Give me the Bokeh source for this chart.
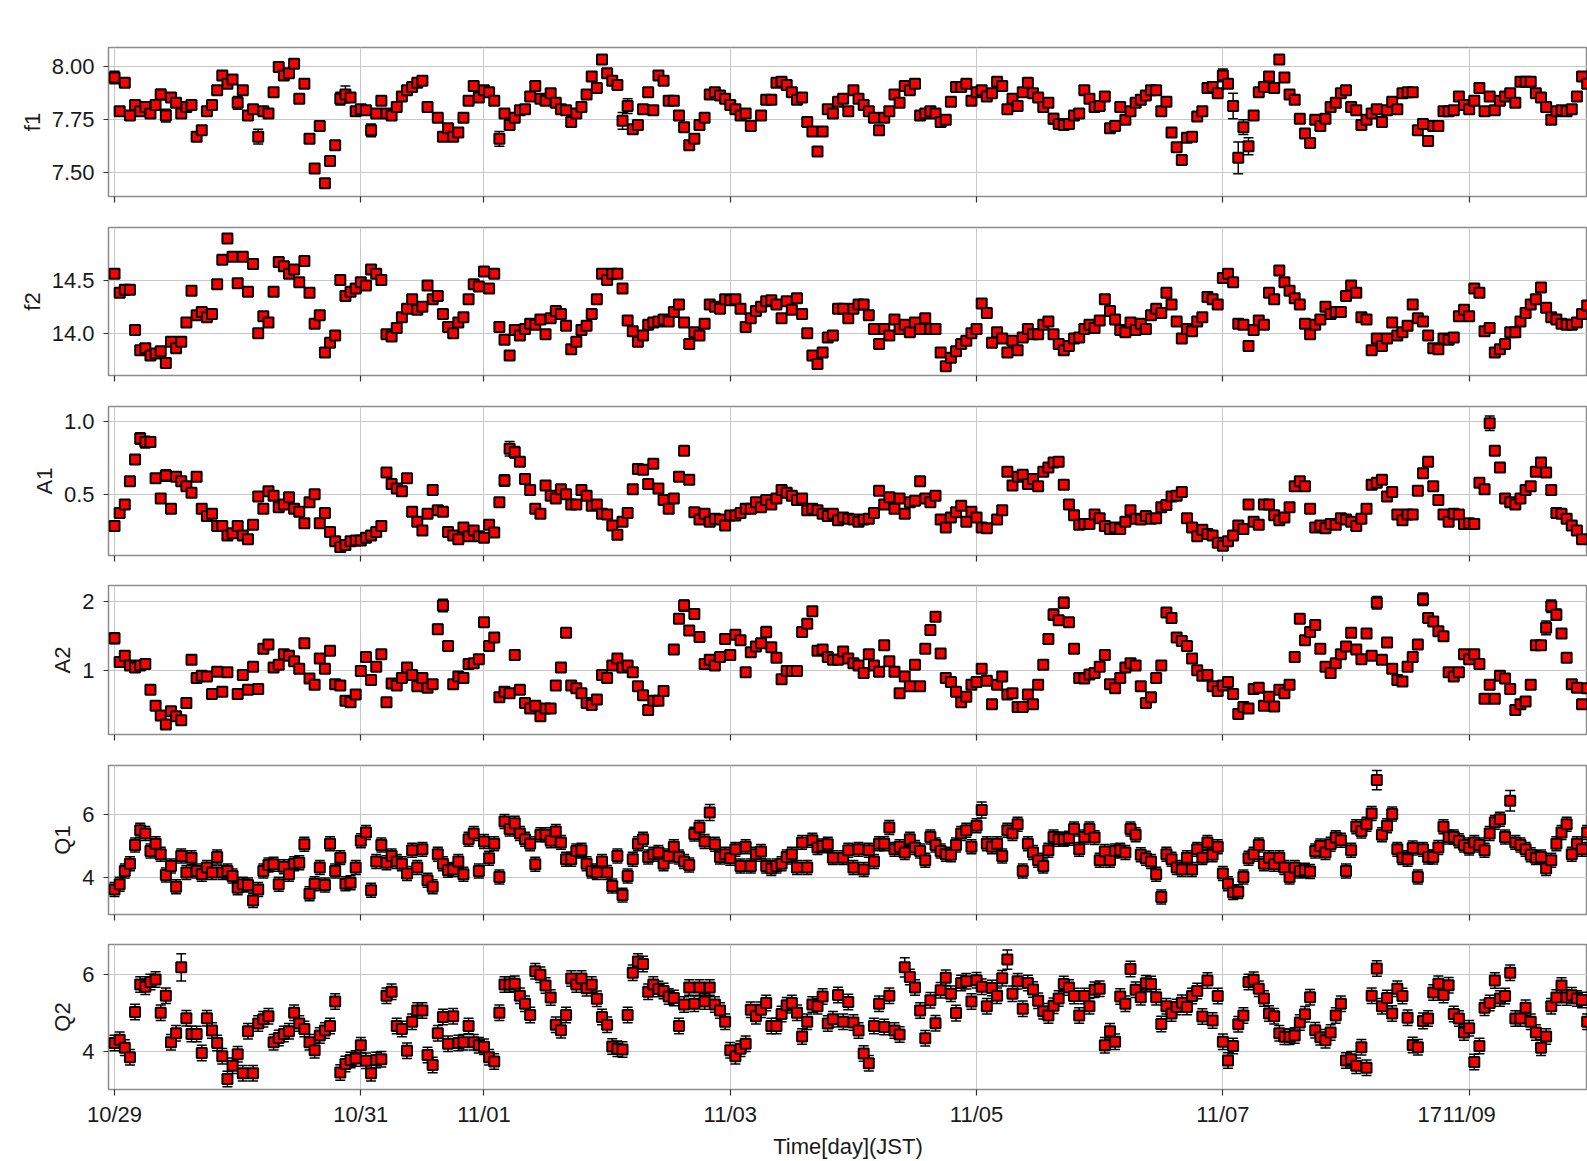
import sys
from bokeh.plotting import figure
from bokeh.layouts import column
from bokeh.models import (ColumnDataSource, Whisker, TeeHead, FixedTicker,
                          Range1d, NumeralTickFormatter)
from bokeh.embed import file_html
from bokeh.resources import INLINE

# ---------------- data ----------------
# hours since 10/29 00:00 JST (one fit per hour)
hours = [
    0, 1, 2, 3, 4, 5, 6, 7, 8, 9, 10, 11, 12, 13, 14, 15, 16, 17, 18, 19,
    20, 21, 22, 23, 24, 25, 26, 27, 28, 29, 30, 31, 32, 33, 34, 35, 36, 37, 38, 39,
    40, 41, 42, 43, 44, 45, 46, 47, 48, 49, 50, 51, 52, 53, 54, 55, 56, 57, 58, 59,
    60, 61, 62, 63, 64, 65, 66, 67, 68, 69, 70, 71, 72, 73, 74, 75, 76, 77, 78, 79,
    80, 81, 82, 83, 84, 85, 86, 87, 88, 89, 90, 91, 92, 93, 94, 95, 96, 97, 98, 99,
    100, 101, 102, 103, 104, 105, 106, 107, 108, 109, 110, 111, 112, 113, 114, 115, 116, 117, 118, 119,
    120, 121, 122, 123, 124, 125, 126, 127, 128, 129, 130, 131, 132, 133, 134, 135, 136, 137, 138, 139,
    140, 141, 142, 143, 144, 145, 146, 147, 148, 149, 150, 151, 152, 153, 154, 155, 156, 157, 158, 159,
    160, 161, 162, 163, 164, 165, 166, 167, 168, 169, 170, 171, 172, 173, 174, 175, 176, 177, 178, 179,
    180, 181, 182, 183, 184, 185, 186, 187, 188, 189, 190, 191, 192, 193, 194, 195, 196, 197, 198, 199,
    200, 201, 202, 203, 204, 205, 206, 207, 208, 209, 210, 211, 212, 213, 214, 215, 216, 217, 218, 219,
    220, 221, 222, 223, 224, 225, 226, 227, 228, 229, 230, 231, 232, 233, 234, 235, 236, 237, 238, 239,
    240, 241, 242, 243, 244, 245, 246, 247, 248, 249, 250, 251, 252, 253, 254, 255, 256, 257, 258, 259,
    260, 261, 262, 263, 264, 265, 266, 267, 268, 269, 270, 271, 272, 273, 274, 275, 276, 277, 278, 279,
    280, 281, 282, 283, 284, 285, 286, 287,
]

day_ticks = [0, 2, 3, 5, 7, 9, 11]
day_labels = ["10/29", "10/31", "11/01", "11/03", "11/05", "11/07", "11/09"]
page_number = "17"
page_number_pos = 10.68   # where the slide page number sits along the time axis

f1 = [
    7.95, 7.79, 7.925, 7.77, 7.82, 7.79, 7.81, 7.78, 7.82, 7.87,
    7.77, 7.855, 7.83, 7.78, 7.81, 7.82, 7.67, 7.70, 7.79, 7.82,
    7.89, 7.96, 7.92, 7.94, 7.83, 7.89, 7.77, 7.80, 7.67, 7.79,
    7.78, 7.88, 8.00, 7.96, 7.97, 8.015, 7.85, 7.92, 7.66, 7.52,
    7.72, 7.45, 7.555, 7.63, 7.85, 7.87, 7.855, 7.79, 7.80, 7.795,
    7.70, 7.78, 7.84, 7.78, 7.77, 7.81, 7.86, 7.89, 7.905, 7.925,
    7.935, 7.81, None, 7.76, 7.67, 7.71, 7.67, 7.69, 7.76, 7.84,
    7.91, 7.855, 7.89, 7.88, 7.84, 7.66, 7.78, 7.725, 7.76, 7.795,
    7.80, 7.86, 7.91, 7.85, 7.84, 7.875, 7.83, 7.80, 7.795, 7.74,
    7.78, 7.81, 7.87, 7.955, 7.90, 8.035, 7.97, 7.935, 7.915, 7.745,
    7.815, 7.705, 7.725, 7.80, 7.88, 7.795, 7.96, 7.935, 7.84, 7.84,
    7.77, 7.715, 7.63, 7.66, 7.725, 7.76, 7.87, 7.88, 7.865, 7.85,
    7.82, 7.80, 7.77, 7.78, 7.72, None, 7.77, 7.845, 7.845, 7.925,
    7.93, 7.915, 7.88, 7.845, 7.855, 7.74, 7.695, 7.60, 7.695, 7.80,
    7.78, 7.835, 7.85, 7.79, 7.89, 7.85, 7.82, 7.79, 7.76, 7.70,
    7.76, 7.79, 7.87, 7.83, 7.91, 7.89, 7.92, 7.77, 7.78, 7.79,
    7.78, 7.74, 7.75, 7.835, 7.905, 7.905, 7.92, 7.84, 7.88, 7.89,
    7.86, 7.875, 7.93, 7.91, 7.80, 7.85, 7.815, 7.88, 7.925, 7.875,
    7.855, 7.81, 7.83, 7.755, 7.73, 7.725, 7.73, 7.77, 7.78, 7.89,
    7.85, 7.81, 7.815, 7.86, 7.71, 7.72, 7.81, 7.75, 7.79, 7.83,
    7.845, 7.865, 7.89, 7.89, 7.79, 7.835, 7.69, 7.62, 7.56, 7.665,
    7.67, 7.765, 7.79, 7.90, 7.905, 7.875, 7.96, 7.92, 7.815, 7.57,
    7.715, 7.625, 7.77, 7.88, 7.905, 7.955, 7.90, 8.035, 7.95, 7.87,
    7.845, 7.755, 7.685, 7.64, 7.75, 7.72, 7.755, 7.81, 7.83, 7.875,
    7.89, 7.81, 7.795, 7.725, 7.75, 7.78, 7.80, 7.74, 7.795, 7.835,
    7.80, 7.875, 7.88, 7.88, 7.70, 7.73, 7.65, 7.72, 7.72, 7.79,
    7.79, 7.795, 7.86, 7.82, 7.80, 7.84, 7.90, 7.79, 7.86, 7.795,
    7.84, 7.86, 7.875, 7.83, 7.93, 7.93, 7.93, 7.875, 7.855, 7.81,
    7.75, 7.79, 7.795, 7.79, 7.80, 7.86, 7.955, 7.92,
]
f1_err = 0.015
f1_err_big = {0: 0.03, 9: 0.025, 10: 0.03, 24: 0.03, 28: 0.035, 44: 0.03, 45: 0.04,
              50: 0.03, 75: 0.035, 99: 0.04, 100: 0.035, 183: 0.025, 216: 0.03,
              218: 0.06, 219: 0.075, 220: 0.035, 221: 0.04}

f2 = [
    14.56, 14.38, 14.41, 14.41, 14.03, 13.84, 13.86, 13.79, 13.81, 13.83,
    13.72, 13.92, 13.86, 13.92, 14.10, 14.40, 14.17, 14.20, 14.15, 14.18,
    14.46, 14.69, 14.89, 14.72, 14.47, 14.72, 14.39, 14.65, 14.00, 14.16,
    14.10, 14.39, 14.67, 14.63, 14.56, 14.60, 14.48, 14.68, 14.38, 14.09,
    14.17, 13.82, 13.91, 13.98, 14.50, 14.35, 14.39, 14.42, 14.48, 14.45,
    14.60, 14.56, 14.50, 13.99, 13.97, 14.05, 14.15, 14.23, 14.32, 14.22,
    14.25, 14.45, 14.32, 14.35, 14.18, 14.06, 14.00, 14.10, 14.15, 14.32,
    14.46, 14.44, 14.58, 14.42, 14.56, 14.06, 13.94, 13.79, 14.03, 13.98,
    14.04, 14.09, 14.08, 14.13, 13.99, 14.14, 14.21, 14.18, 14.07, 13.85,
    13.92, 14.03, 14.07, 14.18, 14.32, 14.56, 14.50, 14.56, 14.56, 14.42,
    14.12, 14.02, 13.92, 13.98, 14.08, 14.10, 14.11, 14.13, 14.11, 14.20,
    14.27, 14.10, 13.90, 14.01, 13.98, 14.09, 14.27, 14.25, 14.23, 14.32,
    14.31, 14.32, 14.23, 14.06, 14.14, 14.21, 14.25, 14.30, 14.31, 14.27,
    14.14, 14.30, 14.22, 14.33, 14.18, 14.00, 13.79, 13.71, 13.82, 13.96,
    13.98, 14.23, 14.23, 14.14, 14.23, 14.27, 14.27, 14.17, 14.04, 13.90,
    14.04, 13.98, 14.13, 14.04, 14.08, 14.01, 14.10, 14.04, 14.14, 14.04,
    14.04, 13.82, 13.69, 13.77, 13.83, 13.90, 13.93, 14.00, 14.04, 14.28,
    14.19, 13.91, 14.01, 13.95, 13.82, 13.93, 13.84, 13.96, 14.04, 13.99,
    13.99, 14.08, 14.11, 13.99, 13.90, 13.84, 13.88, 13.95, 13.96, 14.04,
    14.08, 14.05, 14.12, 14.32, 14.21, 14.13, 14.03, 14.01, 14.10, 14.03,
    14.09, 14.04, 14.17, 14.23, 14.19, 14.38, 14.27, 14.11, 13.95, 14.04,
    14.02, 14.11, 14.15, 14.34, 14.32, 14.27, 14.52, 14.56, 14.48, 14.09,
    14.08, 13.88, 14.03, 14.12, 14.08, 14.38, 14.32, 14.59, 14.48, 14.40,
    14.33, 14.27, 14.09, 13.99, 14.08, 14.13, 14.25, 14.18, 14.20, 14.20,
    14.35, 14.45, 14.38, 14.15, 14.13, 13.84, 13.95, 13.88, 13.95, 14.10,
    13.98, 14.01, 14.07, 14.27, 14.14, 14.11, 13.98, 13.86, 13.85, 13.95,
    13.94, 13.96, 14.16, 14.22, 14.16, 14.42, 14.38, 14.02, 14.05, 13.82,
    13.85, 13.90, 14.01, 14.01, 14.11, 14.19, 14.27, 14.32, 14.43, 14.24,
    14.15, 14.13, 14.09, 14.08, 14.08, 14.10, 14.18, 14.26,
]
f2_err = 0.012
f2_err_big = {44: 0.03, 45: 0.04, 46: 0.03, 50: 0.04}

A1 = [
    0.28, 0.37, 0.43, 0.59, 0.74, 0.885, 0.86, 0.86, 0.61, 0.47,
    0.63, 0.40, 0.62, 0.59, 0.555, 0.51, 0.62, 0.40, 0.35, 0.365,
    0.28, 0.28, 0.215, 0.23, 0.28, 0.215, 0.19, 0.29, 0.485, 0.40,
    0.52, 0.49, 0.41, 0.43, 0.48, 0.40, 0.38, 0.30, 0.445, 0.50,
    0.30, 0.37, 0.24, 0.175, 0.135, 0.15, 0.175, 0.18, 0.18, 0.20,
    0.215, 0.24, 0.28, 0.65, 0.57, 0.54, 0.52, 0.61, 0.38, 0.31,
    0.25, 0.365, 0.53, 0.39, 0.38, 0.24, 0.215, 0.19, 0.27, 0.21,
    0.25, 0.21, 0.20, 0.29, 0.235, 0.445, 0.595, 0.815, 0.79, 0.725,
    0.605, 0.53, 0.40, 0.365, 0.56, 0.49, 0.47, 0.535, 0.50, 0.43,
    0.43, 0.53, 0.49, 0.42, 0.43, 0.365, 0.36, 0.285, 0.22, 0.31,
    0.37, 0.535, 0.675, 0.67, 0.57, 0.71, 0.54, 0.46, 0.40, 0.47,
    0.62, 0.80, 0.60, 0.376, 0.325, 0.365, 0.31, 0.33, 0.325, 0.285,
    0.353, 0.353, 0.37, 0.40, 0.40, 0.445, 0.41, 0.46, 0.43, 0.47,
    0.53, 0.51, 0.49, 0.46, 0.47, 0.39, 0.40, 0.39, 0.365, 0.35,
    0.365, 0.32, 0.34, 0.33, 0.325, 0.31, 0.325, 0.33, 0.37, 0.525,
    0.43, 0.48, 0.40, 0.47, 0.365, 0.445, 0.455, 0.59, 0.47, 0.445,
    0.49, 0.325, 0.27, 0.34, 0.375, 0.42, 0.31, 0.38, 0.34, 0.27,
    0.265, None, 0.325, 0.39, 0.655, 0.56, 0.62, 0.635, 0.57, 0.605,
    0.555, 0.655, 0.685, 0.72, 0.725, 0.565, 0.43, 0.355, 0.29, 0.295,
    0.295, 0.36, 0.335, 0.28, 0.26, 0.27, 0.26, 0.31, 0.39, 0.33,
    0.325, 0.35, 0.33, 0.335, 0.41, 0.425, 0.485, 0.49, 0.515, 0.335,
    0.27, 0.21, 0.255, 0.225, 0.215, 0.165, 0.145, 0.175, 0.215, 0.285,
    0.26, 0.43, 0.31, 0.29, 0.43, 0.43, 0.355, 0.32, 0.34, 0.41,
    0.555, 0.59, 0.555, 0.40, 0.27, 0.285, 0.265, 0.295, 0.29, 0.335,
    0.325, 0.31, 0.28, 0.33, 0.40, 0.565, 0.58, 0.60, 0.485, 0.515,
    0.36, 0.32, 0.36, 0.36, 0.525, 0.645, 0.725, 0.555, 0.46, 0.36,
    0.31, 0.365, 0.36, 0.295, 0.30, 0.295, 0.58, 0.535, 0.99, 0.80,
    0.685, 0.47, 0.445, 0.43, 0.47, 0.53, 0.555, 0.655, 0.72, 0.65,
    0.53, 0.37, 0.365, 0.33, 0.285, 0.25, 0.19, None,
]
A1_err = 0.015
A1_err_big = {5: 0.04, 6: 0.04, 7: 0.03, 10: 0.04, 76: 0.04, 77: 0.05, 78: 0.04,
              183: 0.03, 268: 0.05, 269: 0.03}

A2 = [
    1.47, 1.13, 1.22, 1.08, 1.05, 1.08, 1.10, 0.73, 0.50, 0.36,
    0.23, 0.42, 0.35, 0.29, 0.54, 1.16, 0.90, 0.93, 0.92, 0.67,
    0.99, 0.70, 0.98, None, 0.67, 0.94, 0.73, 1.06, 0.74, 1.32,
    1.38, 1.05, 1.09, 1.24, 1.22, 1.14, 1.03, 1.40, 0.89, 0.80,
    1.18, 1.03, 1.29, 0.81, 0.79, 0.57, 0.55, 0.66, 1.00, 1.20,
    0.87, 1.06, 1.24, 0.55, 0.82, 0.79, 0.90, 1.05, 0.94, 0.78,
    0.90, 0.76, 0.81, 1.60, 1.94, 1.36, 0.81, 0.92, 0.90, 1.10,
    1.11, 1.17, 1.70, 1.36, 1.48, 0.62, 0.70, 0.68, 1.23, 0.73,
    0.54, 0.46, 0.50, 0.35, 0.46, 0.46, 0.79, 1.05, 1.55, 0.79,
    0.75, 0.68, 0.54, 0.51, 0.59, 0.94, 0.90, 1.08, 1.18, 1.05,
    1.08, 0.98, 0.78, 0.65, 0.44, 0.57, 0.57, 0.71, None, 1.31,
    1.75, 1.94, 1.58, 1.82, 1.49, 1.10, 1.16, 1.08, 1.20, 1.46,
    1.23, 1.52, 1.44, 0.98, 1.27, 1.35, 1.40, 1.56, 1.34, 1.19,
    0.88, 1.00, 1.00, 1.00, 1.56, 1.68, 1.86, 1.29, 1.31, 1.20,
    1.16, 1.16, 1.28, 1.18, 1.11, 1.08, 0.97, 1.24, 1.08, 0.99,
    1.37, 1.14, 0.99, 0.68, 0.92, 0.78, 1.09, 0.78, 1.32, 1.59,
    1.78, 1.25, 0.90, 0.84, 0.70, 0.55, 0.63, 0.80, 0.84, 1.03,
    0.86, 0.52, 0.80, 0.92, 0.66, 0.68, 0.48, 0.48, 0.66, 0.52,
    0.80, 1.09, 1.46, 1.81, 1.73, 1.98, 1.70, 1.32, 0.90, 0.89,
    0.95, 0.97, 1.06, 1.23, 0.81, 0.75, 0.90, 1.05, 1.11, 1.08,
    0.78, 0.54, 0.62, 0.90, 1.08, 1.84, 1.76, 1.48, 1.43, 1.36,
    1.18, 1.01, 0.93, 0.94, 0.78, 0.71, 0.79, 0.84, 0.67, 0.38,
    0.48, 0.46, 0.74, 0.76, 0.50, 0.63, 0.49, 0.73, 0.68, 0.80,
    1.20, 1.75, 1.44, 1.56, 1.66, 1.32, 1.06, 0.97, 1.11, 1.24,
    1.35, 1.55, 1.31, 1.17, 1.54, 1.22, 1.98, 1.16, 1.41, 1.03,
    0.87, 0.85, 1.06, 1.20, 1.38, 2.03, 1.76, 1.71, 1.57, 1.50,
    0.98, 0.92, 0.98, 1.24, 1.17, 1.24, 1.10, 0.60, 0.80, 0.60,
    0.93, 0.89, 0.74, 0.44, 0.52, 0.56, 0.80, 1.37, 1.37, 1.62,
    1.93, 1.81, 1.54, 1.19, 0.81, 0.76, 0.52, 0.75,
]
A2_err = 0.04
A2_err_big = {0: 0.08, 29: 0.07, 37: 0.05, 42: 0.06, 63: 0.07, 64: 0.09, 109: 0.06,
              111: 0.08, 127: 0.08, 183: 0.08, 185: 0.08, 246: 0.09, 255: 0.09,
              279: 0.1, 280: 0.09, 281: 0.08}

Q1 = [
    3.63, 3.79, 4.21, 4.44, 5.03, 5.49, 5.39, 4.84, 5.07, 4.74,
    4.08, 4.37, 3.71, 4.68, 4.16, 4.63, 4.21, 4.11, 4.32, 4.16,
    4.65, 4.16, 4.21, 4.05, 3.68, 3.79, 3.77, 3.28, 3.63, 4.21,
    4.40, 4.42, 3.79, 4.34, 4.11, 4.44, 4.47, 5.05, 3.49, 3.81,
    4.32, 3.77, 5.07, 4.21, 4.63, 3.81, 3.84, 4.32, 5.16, 5.42,
    3.60, 4.51, 5.03, 4.47, 4.68, 4.51, 4.44, 4.13, 4.86, 4.32,
    4.89, 3.92, 3.71, 4.74, 4.44, 4.23, 4.26, 4.51, 4.11, 5.21,
    5.39, 4.21, 5.14, 4.61, 5.07, 4.02, 5.77, 5.53, 5.71, 5.39,
    5.21, 5.07, 4.42, 5.35, 5.35, 5.16, 5.45, 5.11, 4.58, 4.58,
    4.84, 4.86, 4.44, 4.21, 4.16, 4.51, 4.16, 3.74, 4.68, 3.45,
    4.05, 4.58, 5.07, 5.21, 4.65, 4.74, 4.79, 4.44, 4.68, 4.97,
    4.65, 4.51, 4.40, 5.37, 5.58, 5.14, 6.05, 5.05, 4.65, 4.74,
    4.61, 4.89, 4.37, 4.97, 4.37, 4.74, 4.82, 4.37, 4.29, 4.37,
    4.44, 4.65, 4.74, 4.32, 5.11, 4.32, 5.18, 4.95, 5.00, 5.05,
    4.63, None, 4.63, 4.86, 4.32, 4.89, 4.26, 4.86, 4.51, 5.07,
    5.07, 5.58, 4.89, 4.97, 4.79, 5.21, 4.95, 4.84, 4.55, 5.28,
    5.03, 4.84, 4.74, 4.72, 5.03, 5.39, 5.49, 4.97, 5.63, 6.13,
    5.07, 4.97, 5.07, 4.68, 5.49, 5.39, 5.68, 4.21, 5.07, 4.79,
    4.55, 4.37, 4.86, 5.28, 5.21, 5.21, 5.24, 5.53, 4.89, 5.28,
    5.53, 5.26, 4.55, 4.82, 4.55, 4.84, 4.86, 4.79, 5.53, 5.35,
    4.72, 4.61, 4.51, 4.11, 3.39, 4.74, 4.58, 4.32, 4.26, 4.63,
    4.26, 4.89, 4.63, 5.11, 4.72, 4.97, 4.13, 3.81, 3.53, 3.56,
    4.02, 4.61, 4.74, 5.03, 4.44, 4.63, 4.42, 4.63, 4.32, 4.02,
    4.32, 4.21, 4.23, 4.19, 4.84, 5.00, 4.79, 5.05, 5.26, 5.18,
    4.21, 4.86, 5.60, 5.47, 5.68, 6.02, 7.07, 5.35, 5.63, 6.00,
    4.89, 4.63, 4.58, 4.93, 4.02, 4.89, 4.65, 4.65, 4.95, 5.60,
    5.28, 5.28, 5.16, 5.03, 4.93, 5.11, 5.03, 4.86, 5.39, 5.74,
    5.84, 5.28, 6.42, 5.11, 5.03, 4.89, 4.72, 4.63, 4.65, 4.29,
    4.55, 5.07, 5.42, 5.68, 4.74, 5.07, 4.89, 5.42,
]
Q1_err = 0.22
Q1_err_big = {116: 0.25, 169: 0.25, 246: 0.3, 272: 0.32}

Q2 = [
    4.23, 4.31, 4.11, 3.86, 5.03, 5.74, 5.68, 5.80, 5.87, 5.01,
    5.45, 4.25, 4.48, 6.18, 4.87, 4.46, 4.46, 3.97, 4.87, 4.55,
    4.23, 3.89, 3.30, 3.64, 3.94, 3.45, 4.53, 3.45, 4.73, 4.84,
    4.92, 4.25, 4.36, 4.46, 4.53, 5.01, 4.73, 4.59, 4.25, 4.04,
    4.42, 4.55, 4.67, 5.30, 3.47, 3.69, 3.79, 3.83, 4.17, 3.77,
    3.45, 3.79, 3.81, 5.45, 5.55, 4.67, 4.59, 4.03, 4.78, 5.07,
    5.07, 3.92, 3.66, 4.48, 4.90, 4.21, 4.92, 4.23, 4.25, 4.67,
    4.25, 4.17, 4.13, 3.86, 3.75, 5.01, 5.74, 5.74, 5.76, 5.45,
    5.24, 4.95, 6.08, 5.99, 5.71, 5.40, 4.70, 4.56, 4.95, 5.89,
    5.74, 5.89, 5.64, 5.74, 5.37, 4.90, 4.70, 4.14, 4.08, 4.06,
    4.95, 6.04, 6.33, 6.27, 5.55, 5.74, 5.62, 5.57, 5.43, 5.39,
    4.67, 5.22, 5.66, 5.24, 5.66, 5.30, 5.66, 5.22, 5.07, 4.78,
    4.04, 3.89, 4.08, 4.21, 5.09, 4.92, 5.09, 5.26, 4.67, 4.67,
    4.98, 5.20, 5.26, 5.01, 4.40, 4.78, 5.22, 5.18, 5.43, 4.73,
    4.84, 5.47, 4.78, 5.29, 4.76, 4.55, 3.96, 3.71, 4.67, 5.24,
    4.64, 5.45, 4.55, 4.45, 6.18, 5.93, 5.66, 5.07, 4.35, 5.33,
    4.74, 5.59, 5.91, 5.50, 5.00, 5.78, 5.82, 5.30, 5.85, 5.68,
    5.18, 5.65, 5.45, 5.90, 6.38, 5.50, 5.82, 5.11, 5.78, 5.61,
    5.32, 5.05, 4.94, 5.19, 5.38, 5.75, 5.66, 5.44, 4.94, 5.44,
    5.18, 5.60, 5.63, 4.17, 4.53, 4.26, 5.43, 5.24, 6.14, 5.60,
    5.41, 5.77, 5.75, 5.41, 4.72, 5.18, 4.99, 5.16, 5.27, 5.16,
    5.44, 5.57, 4.91, 5.84, 4.81, 5.44, 4.26, 3.78, 4.15, 4.71,
    4.94, 5.80, 5.86, 5.63, 5.38, 4.99, 4.92, 4.48, 4.39, 4.39,
    4.42, 4.76, 4.97, 5.41, 4.56, 4.38, 4.30, 4.50, 4.94, 5.24,
    3.78, 3.81, 3.64, 4.12, 3.59, 5.45, 6.15, 5.18, 5.39, 4.99,
    5.63, 5.44, 4.88, 4.18, 4.12, 4.80, 4.86, 5.53, 5.76, 5.47,
    5.72, 4.98, 4.86, 4.50, 4.61, 3.74, 4.15, 5.14, 5.26, 5.84,
    5.38, 5.44, 6.04, 4.86, 4.86, 5.14, 4.78, 4.50, 4.11, 4.40,
    5.18, 5.40, 5.71, 5.40, 5.46, 5.38, 5.34, 4.78,
]
Q2_err = 0.2
Q2_err_big = {13: 0.35, 154: 0.25, 174: 0.25}

# ---------------- layout ----------------
FONT = "Liberation Sans"
TXT = "#1a1a1a"
X_START, X_END = -0.049, 11.961

panels = [
    # label, values, err, big errs, y-range, y ticks, tick format, top, frame, bottom
    ("f1", f1, f1_err, f1_err_big, (7.387, 8.092), [7.5, 7.75, 8.0], "0.00", 47, 149, 30),
    ("f2", f2, f2_err, f2_err_big, (13.603, 14.994), [14.0, 14.5], "0.0", 1, 148, 30),
    ("A1", A1, A1_err, A1_err_big, (0.077, 1.106), [0.5, 1.0], "0.0", 1, 149, 29),
    ("A2", A2, A2_err, A2_err_big, (0.086, 2.229), [1, 2], "0", 1, 149, 30),
    ("Q1", Q1, Q1_err, Q1_err_big, (2.84, 7.53), [4, 6], "0", 1, 149, 29),
    ("Q2", Q2, Q2_err, Q2_err_big, (3.03, 6.77), [4, 6], "0", 1, 149, 68),
]


def make_source(vals, err0, big):
    if len(vals) != len(hours):
        print("length mismatch", len(vals), file=sys.stderr)
    xs, ys, lo, hi = [], [], [], []
    for h, v in zip(hours, vals):
        if v is None:
            continue
        e = big.get(h, err0)
        xs.append(h / 24.0)
        ys.append(v)
        lo.append(v - e)
        hi.append(v + e)
    return ColumnDataSource(dict(x=xs, y=ys, lower=lo, upper=hi))


figs = []
for i, (lab, vals, e0, eb, yr, yt, fmt, top, fh, bot) in enumerate(panels):
    last = i == len(panels) - 1
    p = figure(width=1587, height=top + fh + bot, output_backend="svg",
               toolbar_location=None, x_range=Range1d(X_START, X_END),
               y_range=Range1d(*yr), min_border_left=108, min_border_right=0,
               min_border_top=top, min_border_bottom=bot)
    p.outline_line_color = "#8c8c8c"
    p.outline_line_width = 1.5
    p.background_fill_color = "white"
    p.border_fill_color = "white"

    # grids
    p.xgrid.ticker = FixedTicker(ticks=day_ticks)
    p.ygrid.ticker = FixedTicker(ticks=yt)
    for g in (p.xgrid, p.ygrid):
        g.grid_line_color = "#c8c8c8"
        g.grid_line_width = 1

    # x axis
    xa = p.xaxis[0]
    xa.axis_line_color = None
    if last:
        # tick marks drawn as the (labelless) minor ticks at the day positions;
        # the labelled major ticks also carry the slide page number.
        xa.ticker = FixedTicker(ticks=day_ticks + [page_number_pos], minor_ticks=day_ticks)
        overrides = {t: s for t, s in zip(day_ticks, day_labels)}
        overrides[page_number_pos] = page_number
        xa.major_label_overrides = overrides
        xa.major_tick_out = 0
        xa.major_tick_in = 0
        xa.minor_tick_out = 6
        xa.minor_tick_in = 0
        xa.minor_tick_line_color = "#333333"
        xa.minor_tick_line_width = 1.2
        xa.major_label_text_font = FONT
        xa.major_label_text_font_size = "22px"
        xa.major_label_text_color = TXT
        xa.major_label_standoff = 6
        xa.axis_label = "Time[day](JST)"
        xa.axis_label_text_font = FONT
        xa.axis_label_text_font_size = "22px"
        xa.axis_label_text_font_style = "normal"
        xa.axis_label_text_color = TXT
        xa.axis_label_standoff = 4
    else:
        xa.ticker = FixedTicker(ticks=day_ticks)
        xa.major_tick_out = 6
        xa.major_tick_in = 0
        xa.minor_tick_line_color = None
        xa.major_tick_line_color = "#333333"
        xa.major_tick_line_width = 1.2
        xa.major_label_text_font_size = "0px"
        xa.major_label_standoff = 0

    # y axis
    ya = p.yaxis[0]
    ya.ticker = FixedTicker(ticks=yt)
    ya.formatter = NumeralTickFormatter(format=fmt)
    ya.axis_line_color = None
    ya.major_tick_out = 5
    ya.major_tick_in = 0
    ya.minor_tick_line_color = None
    ya.major_tick_line_color = "#333333"
    ya.major_label_text_font = FONT
    ya.major_label_text_font_size = "22px"
    ya.major_label_text_color = TXT
    ya.major_label_standoff = 9
    ya.axis_label = lab
    ya.axis_label_text_font = FONT
    ya.axis_label_text_font_size = "22px"
    ya.axis_label_text_font_style = "normal"
    ya.axis_label_text_color = TXT
    ya.axis_label_standoff = 4

    src = make_source(vals, e0, eb)
    w = Whisker(source=src, base="x", upper="upper", lower="lower",
                dimension="height", line_color="black", line_width=1.5,
                upper_head=TeeHead(size=10, line_color="black", line_width=1.5),
                lower_head=TeeHead(size=10, line_color="black", line_width=1.5))
    p.add_layout(w)
    p.scatter("x", "y", source=src, marker="square", size=10,
              fill_color="#ff0000", line_color="black", line_width=2)
    figs.append(p)

layout = column(*figs, spacing=0)
open("out.html", "w").write(file_html(layout, INLINE))
